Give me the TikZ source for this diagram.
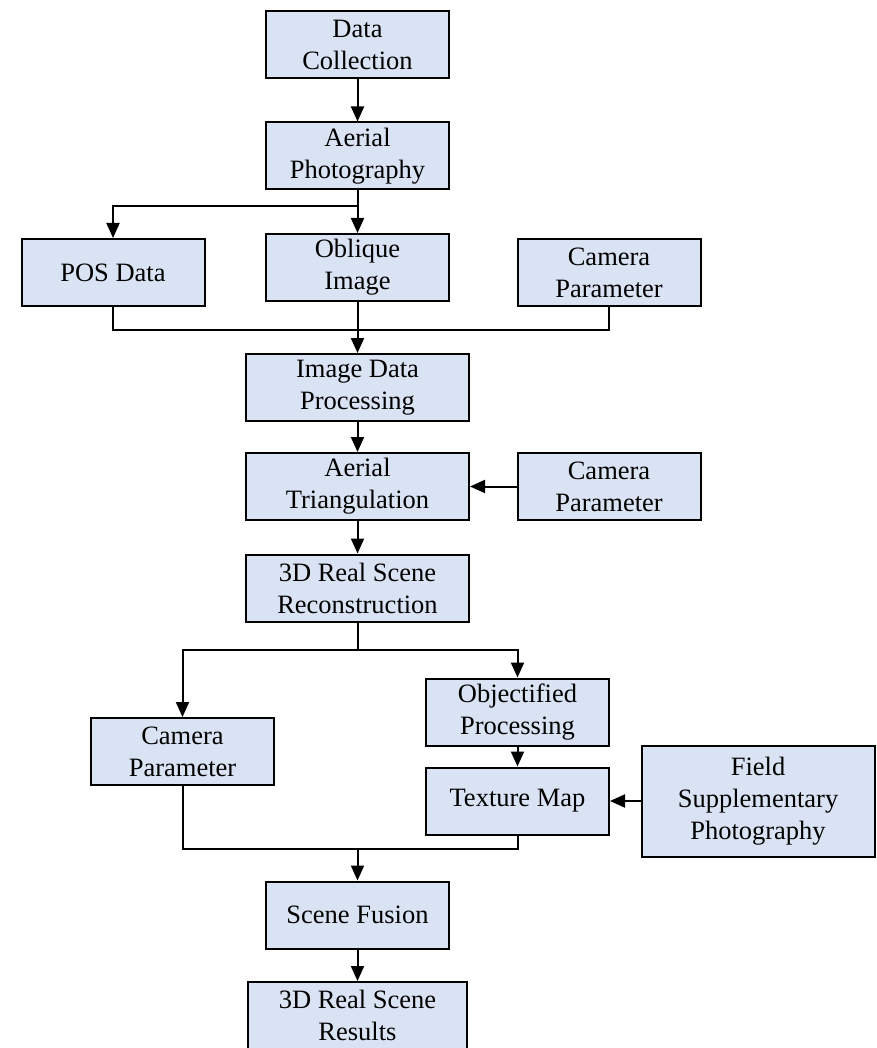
\documentclass[tikz,border=0pt]{standalone}
\usepackage{fontspec}
\setmainfont{Liberation Serif}
\usetikzlibrary{arrows.meta}
\definecolor{boxfill}{RGB}{218,227,243}
\begin{document}
\begin{tikzpicture}[x=1pt,y=-1pt,
  box/.style={draw=black, line width=2pt, fill=boxfill, align=center, inner sep=0pt,
    font=\fontsize{26.5}{32}\selectfont, minimum width=183pt, minimum height=67pt},
  wide/.style={minimum width=223pt},
  link/.style={line width=2pt, line join=miter},
  arr/.style={link, -{Triangle[length=15pt,width=13pt]}}]
\useasboundingbox (0,0) rectangle (876,1048);
\node[box] (dc) at (357.5,44.5) {Data\\Collection};
\node[box] (ap) at (357.5,156) {Aerial\\Photography};
\node[box] (pos) at (113,272.5) {POS Data};
\node[box] (obl) at (357.5,267.5) {Oblique\\Image};
\node[box] (cam1) at (609,272.5) {Camera\\Parameter};
\node[box,wide] (idp) at (357.5,387.5) {Image Data\\Processing};
\node[box,wide] (at) at (357.5,486.5) {Aerial\\Triangulation};
\node[box] (cam2) at (609,486.5) {Camera\\Parameter};
\node[box,wide] (rec) at (357.5,588) {3D Real Scene\\Reconstruction};
\node[box] (obj) at (517.5,712) {Objectified\\Processing};
\node[box] (cam3) at (182.5,751.5) {Camera\\Parameter};
\node[box] (tex) at (517.5,801) {Texture Map};
\node[box,minimum width=233pt,minimum height=111pt] (field) at (758,801) {Field\\Supplementary\\Photography};
\node[box] (sf) at (357.5,915) {Scene Fusion};
\node[box,minimum width=219pt] (res) at (357.5,1015.5) {3D Real Scene\\Results};
\coordinate (s1) at (357.5,206);
\coordinate (m1) at (357.5,330);
\coordinate (s2) at (357.5,650);
\coordinate (m2) at (357.5,849);
\draw[arr] (dc) -- (ap);
\draw[arr] (ap) -- (obl);
\draw[arr] (s1) -| (pos);
\draw[link] (pos) |- (m1) -| (cam1);
\draw[arr] (obl) -- (idp);
\draw[arr] (idp) -- (at);
\draw[arr] (cam2) -- (at);
\draw[arr] (at) -- (rec);
\draw[link] (rec) -- (s2);
\draw[arr] (s2) -| (cam3);
\draw[arr] (s2) -| (obj);
\draw[arr] (obj) -- (tex);
\draw[arr] (field) -- (tex);
\draw[link] (cam3) |- (m2) -| (tex);
\draw[arr] (m2) -- (sf);
\draw[arr] (sf) -- (res);
\end{tikzpicture}
\end{document}
